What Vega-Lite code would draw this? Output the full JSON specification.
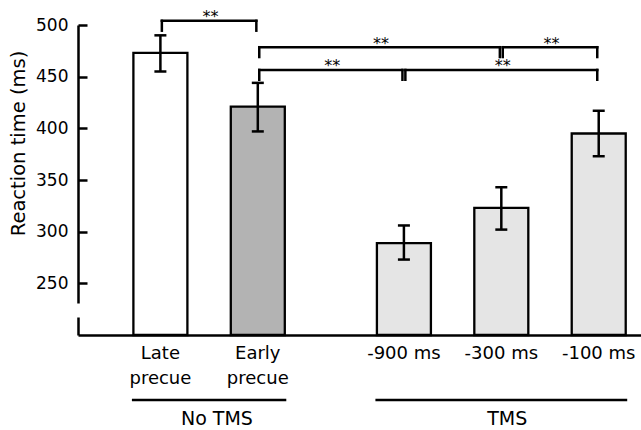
{
  "$schema": "https://vega.github.io/schema/vega-lite/v6.json",
  "autosize": "none",
  "width": 563,
  "height": 310,
  "padding": {"left": 78, "top": 25, "right": 0, "bottom": 95},
  "config": {"view": {"stroke": null}, "font": "DejaVu Sans", "text": {"color": "black"}},
  "datasets": {
    "bars": [
      {"condition": "Late precue", "group": "No TMS", "rt": 473, "lo": 455, "hi": 490},
      {"condition": "Early precue", "group": "No TMS", "rt": 421, "lo": 397, "hi": 444},
      {"condition": "-900 ms", "group": "TMS", "rt": 289, "lo": 273, "hi": 306},
      {"condition": "-300 ms", "group": "TMS", "rt": 323, "lo": 302, "hi": 343},
      {"condition": "-100 ms", "group": "TMS", "rt": 395, "lo": 373, "hi": 417}
    ],
    "brackets": [
      {"id": 1, "from": "Late precue", "to": "Early precue", "top": 504, "low": 494.5, "label": "**"},
      {"id": 2, "from": "Early precue", "to": "-300 ms", "top": 478.5, "low": 469, "label": "**"},
      {"id": 3, "from": "-300 ms", "to": "-100 ms", "top": 478.5, "low": 469, "label": "**"},
      {"id": 4, "from": "Early precue", "to": "-900 ms", "top": 456.5, "low": 447, "label": "**"},
      {"id": 5, "from": "-900 ms", "to": "-100 ms", "top": 456.5, "low": 447, "label": "**"}
    ],
    "groups": [
      {"group": "No TMS", "first": "Late precue", "last": "Early precue"},
      {"group": "TMS", "first": "-900 ms", "last": "-100 ms"}
    ]
  },
  "layer": [
    {
      "data": {"name": "bars"},
      "mark": {"type": "bar", "width": 54, "stroke": "black", "strokeWidth": 2.3},
      "encoding": {
        "x": {"field": "condition", "type": "nominal", "sort": null,
          "scale": {"type": "band", "domain": ["Late precue", " ", "Early precue", "  ", "   ", "-900 ms", "    ", "-300 ms", "     ", "-100 ms"], "paddingInner": 0, "paddingOuter": 0.78, "align": 0.764},
          "axis": {"title": null, "domainColor": "black", "domainWidth": 2.5, "ticks": false, "grid": false, "labelAngle": 0, "labelFont": "DejaVu Sans", "labelFontSize": 18, "labelColor": "black", "labelPadding": 9, "labelLineHeight": 25, "labelBaseline": "top",
            "labelExpr": "datum.label == 'Late precue' ? ['Late', 'precue'] : datum.label == 'Early precue' ? ['Early', 'precue'] : datum.label"}},
        "y": {"field": "rt", "type": "quantitative",
          "scale": {"domain": [200, 500], "zero": false, "nice": false},
          "axis": {"title": "Reaction time (ms)", "values": [250, 300, 350, 400, 450, 500], "grid": false, "domainColor": "black", "domainWidth": 2.5, "domainDash": [18, 14, 1000], "tickColor": "black", "tickWidth": 2.5, "tickSize": -9, "labelPadding": 19, "labelFont": "DejaVu Sans", "labelFontSize": 17, "labelColor": "black", "titleFont": "DejaVu Sans", "titleFontSize": 19.5, "titleFontWeight": "normal", "titleColor": "black", "titleX": -60, "titleY": 118, "titleBaseline": "middle", "titleAlign": "center"}},
        "y2": {"datum": 200},
        "color": {"field": "condition", "type": "nominal", "legend": null,
          "scale": {"domain": ["Late precue", "Early precue", "-900 ms", "-300 ms", "-100 ms"], "range": ["#ffffff", "#b3b3b3", "#e5e5e5", "#e5e5e5", "#e5e5e5"]}}
      }
    },
    {
      "data": {"name": "bars"},
      "mark": {"type": "rule", "color": "black", "strokeWidth": 2.5},
      "encoding": {
        "x": {"field": "condition", "type": "nominal", "sort": null, "bandPosition": 0.5,
          "scale": {"type": "band", "domain": ["Late precue", " ", "Early precue", "  ", "   ", "-900 ms", "    ", "-300 ms", "     ", "-100 ms"], "paddingInner": 0, "paddingOuter": 0.78, "align": 0.764}},
        "y": {"field": "lo", "type": "quantitative", "scale": {"domain": [200, 500], "zero": false, "nice": false}},
        "y2": {"field": "hi"}
      }
    },
    {
      "data": {"name": "bars"},
      "transform": [{"fold": ["lo", "hi"], "as": ["end", "value"]}],
      "mark": {"type": "tick", "orient": "horizontal", "size": 12, "thickness": 2.5, "color": "black", "opacity": 1},
      "encoding": {
        "x": {"field": "condition", "type": "nominal", "sort": null,
          "scale": {"type": "band", "domain": ["Late precue", " ", "Early precue", "  ", "   ", "-900 ms", "    ", "-300 ms", "     ", "-100 ms"], "paddingInner": 0, "paddingOuter": 0.78, "align": 0.764}},
        "y": {"field": "value", "type": "quantitative", "scale": {"domain": [200, 500], "zero": false, "nice": false}}
      }
    },
    {
      "data": {"name": "brackets"},
      "mark": {"type": "rule", "color": "black", "strokeWidth": 2.5, "strokeCap": "square"},
      "encoding": {
        "x": {"field": "from", "type": "nominal", "sort": null, "bandPosition": 0.53,
          "scale": {"type": "band", "domain": ["Late precue", " ", "Early precue", "  ", "   ", "-900 ms", "    ", "-300 ms", "     ", "-100 ms"], "paddingInner": 0, "paddingOuter": 0.78, "align": 0.764}},
        "x2": {"field": "to", "bandPosition": 0.47},
        "y": {"field": "top", "type": "quantitative", "scale": {"domain": [200, 500], "zero": false, "nice": false}}
      }
    },
    {
      "data": {"name": "brackets"},
      "mark": {"type": "rule", "color": "black", "strokeWidth": 2.5, "strokeCap": "square"},
      "encoding": {
        "x": {"field": "from", "type": "nominal", "sort": null, "bandPosition": 0.53,
          "scale": {"type": "band", "domain": ["Late precue", " ", "Early precue", "  ", "   ", "-900 ms", "    ", "-300 ms", "     ", "-100 ms"], "paddingInner": 0, "paddingOuter": 0.78, "align": 0.764}},
        "y": {"field": "top", "type": "quantitative", "scale": {"domain": [200, 500], "zero": false, "nice": false}},
        "y2": {"field": "low"}
      }
    },
    {
      "data": {"name": "brackets"},
      "mark": {"type": "rule", "color": "black", "strokeWidth": 2.5, "strokeCap": "square"},
      "encoding": {
        "x": {"field": "to", "type": "nominal", "sort": null, "bandPosition": 0.47,
          "scale": {"type": "band", "domain": ["Late precue", " ", "Early precue", "  ", "   ", "-900 ms", "    ", "-300 ms", "     ", "-100 ms"], "paddingInner": 0, "paddingOuter": 0.78, "align": 0.764}},
        "y": {"field": "top", "type": "quantitative", "scale": {"domain": [200, 500], "zero": false, "nice": false}},
        "y2": {"field": "low"}
      }
    },
    {
      "data": {"name": "brackets"},
      "transform": [{"filter": "datum.id == 1 || datum.id == 3"}],
      "mark": {"type": "text", "fontSize": 16, "baseline": "alphabetic", "dy": 1.5, "dx": 1.5, "color": "black"},
      "encoding": {
        "x": {"field": "from", "type": "nominal", "sort": null, "bandPosition": 1.5,
          "scale": {"type": "band", "domain": ["Late precue", " ", "Early precue", "  ", "   ", "-900 ms", "    ", "-300 ms", "     ", "-100 ms"], "paddingInner": 0, "paddingOuter": 0.78, "align": 0.764}},
        "y": {"field": "top", "type": "quantitative", "scale": {"domain": [200, 500], "zero": false, "nice": false}},
        "text": {"field": "label"}
      }
    },
    {
      "data": {"name": "brackets"},
      "transform": [{"filter": "datum.id == 2"}],
      "mark": {"type": "text", "fontSize": 16, "baseline": "alphabetic", "dy": 1.5, "dx": 1.5, "color": "black"},
      "encoding": {
        "x": {"field": "from", "type": "nominal", "sort": null, "bandPosition": 3.0,
          "scale": {"type": "band", "domain": ["Late precue", " ", "Early precue", "  ", "   ", "-900 ms", "    ", "-300 ms", "     ", "-100 ms"], "paddingInner": 0, "paddingOuter": 0.78, "align": 0.764}},
        "y": {"field": "top", "type": "quantitative", "scale": {"domain": [200, 500], "zero": false, "nice": false}},
        "text": {"field": "label"}
      }
    },
    {
      "data": {"name": "brackets"},
      "transform": [{"filter": "datum.id == 4"}],
      "mark": {"type": "text", "fontSize": 16, "baseline": "alphabetic", "dy": 1.5, "dx": 1.5, "color": "black"},
      "encoding": {
        "x": {"field": "from", "type": "nominal", "sort": null, "bandPosition": 2.0,
          "scale": {"type": "band", "domain": ["Late precue", " ", "Early precue", "  ", "   ", "-900 ms", "    ", "-300 ms", "     ", "-100 ms"], "paddingInner": 0, "paddingOuter": 0.78, "align": 0.764}},
        "y": {"field": "top", "type": "quantitative", "scale": {"domain": [200, 500], "zero": false, "nice": false}},
        "text": {"field": "label"}
      }
    },
    {
      "data": {"name": "brackets"},
      "transform": [{"filter": "datum.id == 5"}],
      "mark": {"type": "text", "fontSize": 16, "baseline": "alphabetic", "dy": 1.5, "dx": 1.5, "color": "black"},
      "encoding": {
        "x": {"field": "from", "type": "nominal", "sort": null, "bandPosition": 2.5,
          "scale": {"type": "band", "domain": ["Late precue", " ", "Early precue", "  ", "   ", "-900 ms", "    ", "-300 ms", "     ", "-100 ms"], "paddingInner": 0, "paddingOuter": 0.78, "align": 0.764}},
        "y": {"field": "top", "type": "quantitative", "scale": {"domain": [200, 500], "zero": false, "nice": false}},
        "text": {"field": "label"}
      }
    },
    {
      "data": {"name": "groups"},
      "mark": {"type": "rule", "color": "black", "strokeWidth": 2.5},
      "encoding": {
        "x": {"field": "first", "type": "nominal", "sort": null, "bandPosition": -0.085,
          "scale": {"type": "band", "domain": ["Late precue", " ", "Early precue", "  ", "   ", "-900 ms", "    ", "-300 ms", "     ", "-100 ms"], "paddingInner": 0, "paddingOuter": 0.78, "align": 0.764}},
        "x2": {"field": "last", "bandPosition": 1.085},
        "y": {"datum": 137, "type": "quantitative", "scale": {"domain": [200, 500], "zero": false, "nice": false}}
      }
    },
    {
      "data": {"name": "groups"},
      "transform": [{"filter": "datum.group == 'No TMS'"}],
      "mark": {"type": "text", "fontSize": 19, "baseline": "alphabetic", "color": "black"},
      "encoding": {
        "x": {"field": "first", "type": "nominal", "sort": null, "bandPosition": 1.66,
          "scale": {"type": "band", "domain": ["Late precue", " ", "Early precue", "  ", "   ", "-900 ms", "    ", "-300 ms", "     ", "-100 ms"], "paddingInner": 0, "paddingOuter": 0.78, "align": 0.764}},
        "y": {"datum": 113, "type": "quantitative", "scale": {"domain": [200, 500], "zero": false, "nice": false}},
        "text": {"field": "group"}
      }
    },
    {
      "data": {"name": "groups"},
      "transform": [{"filter": "datum.group == 'TMS'"}],
      "mark": {"type": "text", "fontSize": 19, "baseline": "alphabetic", "color": "black"},
      "encoding": {
        "x": {"field": "first", "type": "nominal", "sort": null, "bandPosition": 2.62,
          "scale": {"type": "band", "domain": ["Late precue", " ", "Early precue", "  ", "   ", "-900 ms", "    ", "-300 ms", "     ", "-100 ms"], "paddingInner": 0, "paddingOuter": 0.78, "align": 0.764}},
        "y": {"datum": 113, "type": "quantitative", "scale": {"domain": [200, 500], "zero": false, "nice": false}},
        "text": {"field": "group"}
      }
    }
  ]
}
